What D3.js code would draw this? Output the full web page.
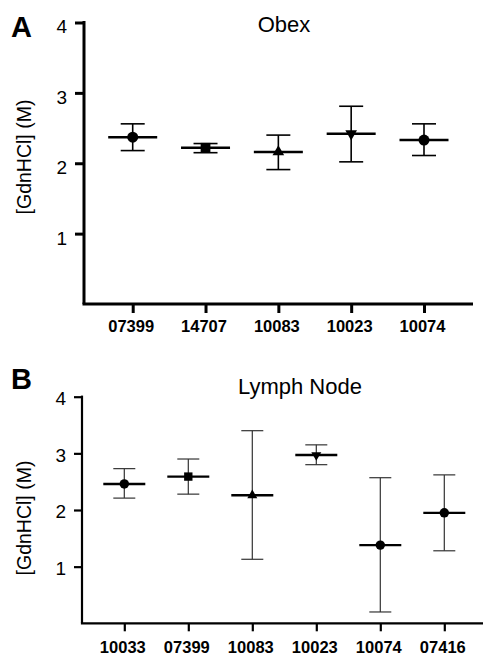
<!DOCTYPE html>
<html>
<head>
<meta charset="utf-8">
<script src="https://cdn.jsdelivr.net/npm/d3@7"></script>
<style>
  body { margin: 0; background: #fff; }
  svg { display: block; font-family: Arial, 'Liberation Sans', sans-serif; }
</style>
</head>
<body>
<svg width="483" height="656" id="mainsvg"></svg>
<script>
// panel A - Obex
const obexSamples = ['07399', '14707', '10083', '10023', '10074']
const obexMean = [2.37, 2.22, 2.16, 2.42, 2.33]
const obexLow = [2.18, 2.15, 1.91, 2.02, 2.11]
const obexHigh = [2.56, 2.28, 2.40, 2.81, 2.56]
const obexShape = ['circle', 'square', 'triangle', 'triangleDown', 'circle']

// panel B - Lymph Node
const lymphSamples = ['10033', '07399', '10083', '10023', '10074', '07416']
const lymphMean = [2.46, 2.59, 2.26, 2.97, 1.38, 1.95]
const lymphLow = [2.21, 2.28, 1.13, 2.80, 0.20, 1.28]
const lymphHigh = [2.73, 2.90, 3.40, 3.15, 2.57, 2.62]
const lymphShape = ['circle', 'square', 'triangle', 'triangleDown', 'circle', 'circle']

const yTicks = [1, 2, 3, 4]

const svg = d3.select('svg')

function drawPanel(opt) {
    const g = svg.append('g')
    const x = d3.scalePoint().domain(opt.samples).range(opt.xRange)
    const y = d3.scaleLinear().domain([0, 4]).range(opt.yRange)

    // y axis
    const yAxis = g.append('g')
        .attr('transform', `translate(${opt.axisX},0)`)
        .call(d3.axisLeft(y).tickValues(yTicks).tickFormat(d3.format('d'))
            .tickSize(opt.tick).tickSizeOuter(0).tickPadding(opt.tickPad))
    yAxis.select('.domain').remove()
    yAxis.selectAll('.tick line').attr('stroke-width', opt.axisW)
    yAxis.selectAll('.tick text')
        .attr('font-size', '19px').attr('font-family', 'Arial, sans-serif')
        .attr('fill', '#000').attr('dy', opt.labelDy)
    g.append('line')
        .attr('x1', opt.axisX).attr('x2', opt.axisX)
        .attr('y1', y(0)).attr('y2', y(4) - opt.axisW / 2)
        .attr('stroke', '#000').attr('stroke-width', opt.axisW)

    // x axis
    const xAxis = g.append('g')
        .attr('transform', `translate(0,${y(0)})`)
        .call(d3.axisBottom(x).tickSize(opt.tick).tickSizeOuter(0).tickPadding(opt.xPad))
    xAxis.select('.domain').remove()
    xAxis.selectAll('.tick line').attr('stroke-width', opt.axisW)
    xAxis.selectAll('.tick text')
        .attr('font-size', '16.5px').attr('font-weight', 'bold')
        .attr('font-family', 'Arial, sans-serif').attr('fill', '#000')
        .attr('dx', -2)
    g.append('line')
        .attr('x1', opt.axisX - opt.axisW / 2).attr('x2', opt.xEnd)
        .attr('y1', y(0)).attr('y2', y(0))
        .attr('stroke', '#000').attr('stroke-width', opt.axisW)

    const data = opt.samples.map((s, i) => ({
        s: s, m: opt.mean[i], lo: opt.low[i], hi: opt.high[i], shape: opt.shape[i]
    }))

    const pts = g.selectAll('g.pt').data(data).join('g').attr('class', 'pt')
    pts.append('line')
        .attr('x1', d => x(d.s)).attr('x2', d => x(d.s))
        .attr('y1', d => y(d.lo)).attr('y2', d => y(d.hi))
        .attr('stroke', opt.errColor).attr('stroke-width', opt.errW)
    pts.append('line')
        .attr('x1', d => x(d.s) - opt.cap).attr('x2', d => x(d.s) + opt.cap)
        .attr('y1', d => y(d.hi)).attr('y2', d => y(d.hi))
        .attr('stroke', opt.errColor).attr('stroke-width', opt.errW)
    pts.append('line')
        .attr('x1', d => x(d.s) - opt.cap).attr('x2', d => x(d.s) + opt.cap)
        .attr('y1', d => y(d.lo)).attr('y2', d => y(d.lo))
        .attr('stroke', opt.errColor).attr('stroke-width', opt.errW)
    pts.append('line')
        .attr('x1', d => x(d.s) - opt.bar).attr('x2', d => x(d.s) + opt.bar)
        .attr('y1', d => y(d.m)).attr('y2', d => y(d.m))
        .attr('stroke', '#000').attr('stroke-width', opt.barW)

    const symType = { circle: d3.symbolCircle, square: d3.symbolSquare, triangle: d3.symbolTriangle, triangleDown: d3.symbolTriangle }
    const symSize = { circle: opt.dot, square: opt.dot, triangle: opt.dot * 0.62, triangleDown: opt.dot * 0.62 }
    pts.append('path')
        .attr('d', d => d3.symbol().type(symType[d.shape]).size(symSize[d.shape])())
        .attr('transform', d => `translate(${x(d.s)},${y(d.m)})` + (d.shape === 'triangleDown' ? ' rotate(180)' : ''))
        .attr('fill', '#000')

    // titles
    g.append('text')
        .attr('x', opt.titleX).attr('y', opt.titleY)
        .attr('text-anchor', 'middle').attr('font-size', '22px')
        .text(opt.title)
    g.append('text')
        .attr('x', 11).attr('y', opt.letterY)
        .attr('font-size', '29px').attr('font-weight', 'bold')
        .text(opt.letter)
    g.append('text')
        .attr('transform', `translate(31,${opt.ylabY}) rotate(-90)`)
        .attr('text-anchor', 'middle').attr('font-size', '19.5px')
        .text('[GdnHCl] (M)')
}

drawPanel({
    samples: obexSamples, mean: obexMean, low: obexLow, high: obexHigh, shape: obexShape,
    xRange: [132.7, 424], yRange: [304, 22.5], axisX: 84, xEnd: 473,
    axisW: 3, tick: 9, tickPad: 8, xPad: 7, labelDy: '0.55em',
    errColor: '#000', errW: 1.6, cap: 12, bar: 24.5, barW: 2.6, dot: 95,
    title: 'Obex', titleX: 284, titleY: 31.5, letter: 'A', letterY: 36.5, ylabY: 157
})

drawPanel({
    samples: lymphSamples, mean: lymphMean, low: lymphLow, high: lymphHigh, shape: lymphShape,
    xRange: [124.3, 444.3], yRange: [623.3, 396.7], axisX: 82, xEnd: 483,
    axisW: 2.2, tick: 8, tickPad: 8, xPad: 10, labelDy: '0.42em',
    errColor: '#333', errW: 1.2, cap: 11, bar: 21, barW: 2.4, dot: 70,
    title: 'Lymph Node', titleX: 300, titleY: 394, letter: 'B', letterY: 389, ylabY: 518
})
</script>
</body>
</html>
